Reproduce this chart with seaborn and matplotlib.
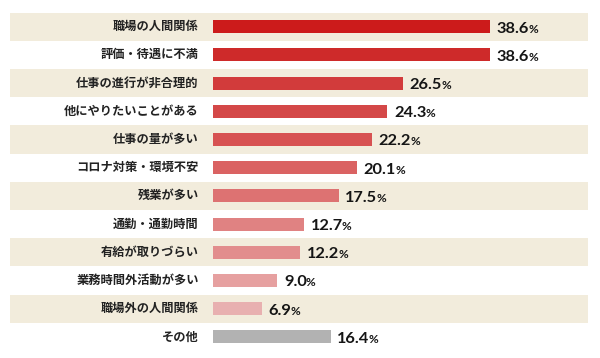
import matplotlib
matplotlib.use("Agg")
import matplotlib.pyplot as plt
import seaborn as sns
import pandas as pd

# Data
categories = ["職場の人間関係", "評価・待遇に不満", "仕事の進行が非合理的", "他にやりたいことがある",
              "仕事の量が多い", "コロナ対策・環境不安", "残業が多い", "通勤・通勤時間",
              "有給が取りづらい", "業務時間外活動が多い", "職場外の人間関係", "その他"]
values = [38.6, 38.6, 26.5, 24.3, 22.2, 20.1, 17.5, 12.7, 12.2, 9.0, 6.9, 16.4]
bar_colors = ["#CC1B1B", "#CE2A2A", "#D23B3B", "#D44848", "#D75252", "#DA6262",
              "#DD7272", "#E08282", "#E28D8D", "#E6A0A0", "#E8B0B0", "#B2B2B2"]
band_color = "#F2ECDC"

df = pd.DataFrame({"item": categories, "value": values})

sns.set_theme(style="white")
plt.rcParams["font.family"] = ["Noto Sans CJK JP", "DejaVu Sans"]

fig = plt.figure(figsize=(6, 3.58), dpi=100)
ax = fig.add_axes([10 / 600, 7 / 358, 578 / 600, 338.5 / 358])

# Alternating beige bands
for i in range(len(categories)):
    if i % 2 == 0:
        ax.axhspan(i - 0.5, i + 0.5, color=band_color, zorder=0, lw=0)

sns.barplot(data=df, x="value", y="item", hue="item", palette=bar_colors,
            orient="h", width=0.46, legend=False, ax=ax, zorder=2,
            edgecolor="none", saturation=1)

ax.set_xlim(-28.2, 52.2)
ax.set_ylim(len(categories) - 0.5, -0.5)
ax.set_xticks([])
ax.set_yticks([])
ax.set_xlabel("")
ax.set_ylabel("")
for s in ax.spines.values():
    s.set_visible(False)
ax.patch.set_alpha(0)

# Category labels on the left
for i, c in enumerate(categories):
    ax.text(-1.95, i, c, ha="right", va="center", fontsize=8.8,
            fontweight="bold", color="#222222")

# Value labels: bold number with smaller % sign
num_texts = []
for i, v in enumerate(values):
    t = ax.text(v + 0.9, i + 0.21, f"{v:.1f}", ha="left", va="baseline",
                fontsize=11.8, fontweight="bold", family="Lato", color="#151515")
    num_texts.append(t)

fig.canvas.draw()
renderer = fig.canvas.get_renderer()
inv = ax.transData.inverted()
for i, t in enumerate(num_texts):
    bb = t.get_window_extent(renderer)
    x_end = inv.transform((bb.x1, bb.y0))[0]
    ax.text(x_end - 0.12, i + 0.21, "%", ha="left", va="baseline",
            fontsize=8.5, fontweight="bold", family="Lato", color="#151515")

fig.savefig("out.png", dpi=100, facecolor="white")
